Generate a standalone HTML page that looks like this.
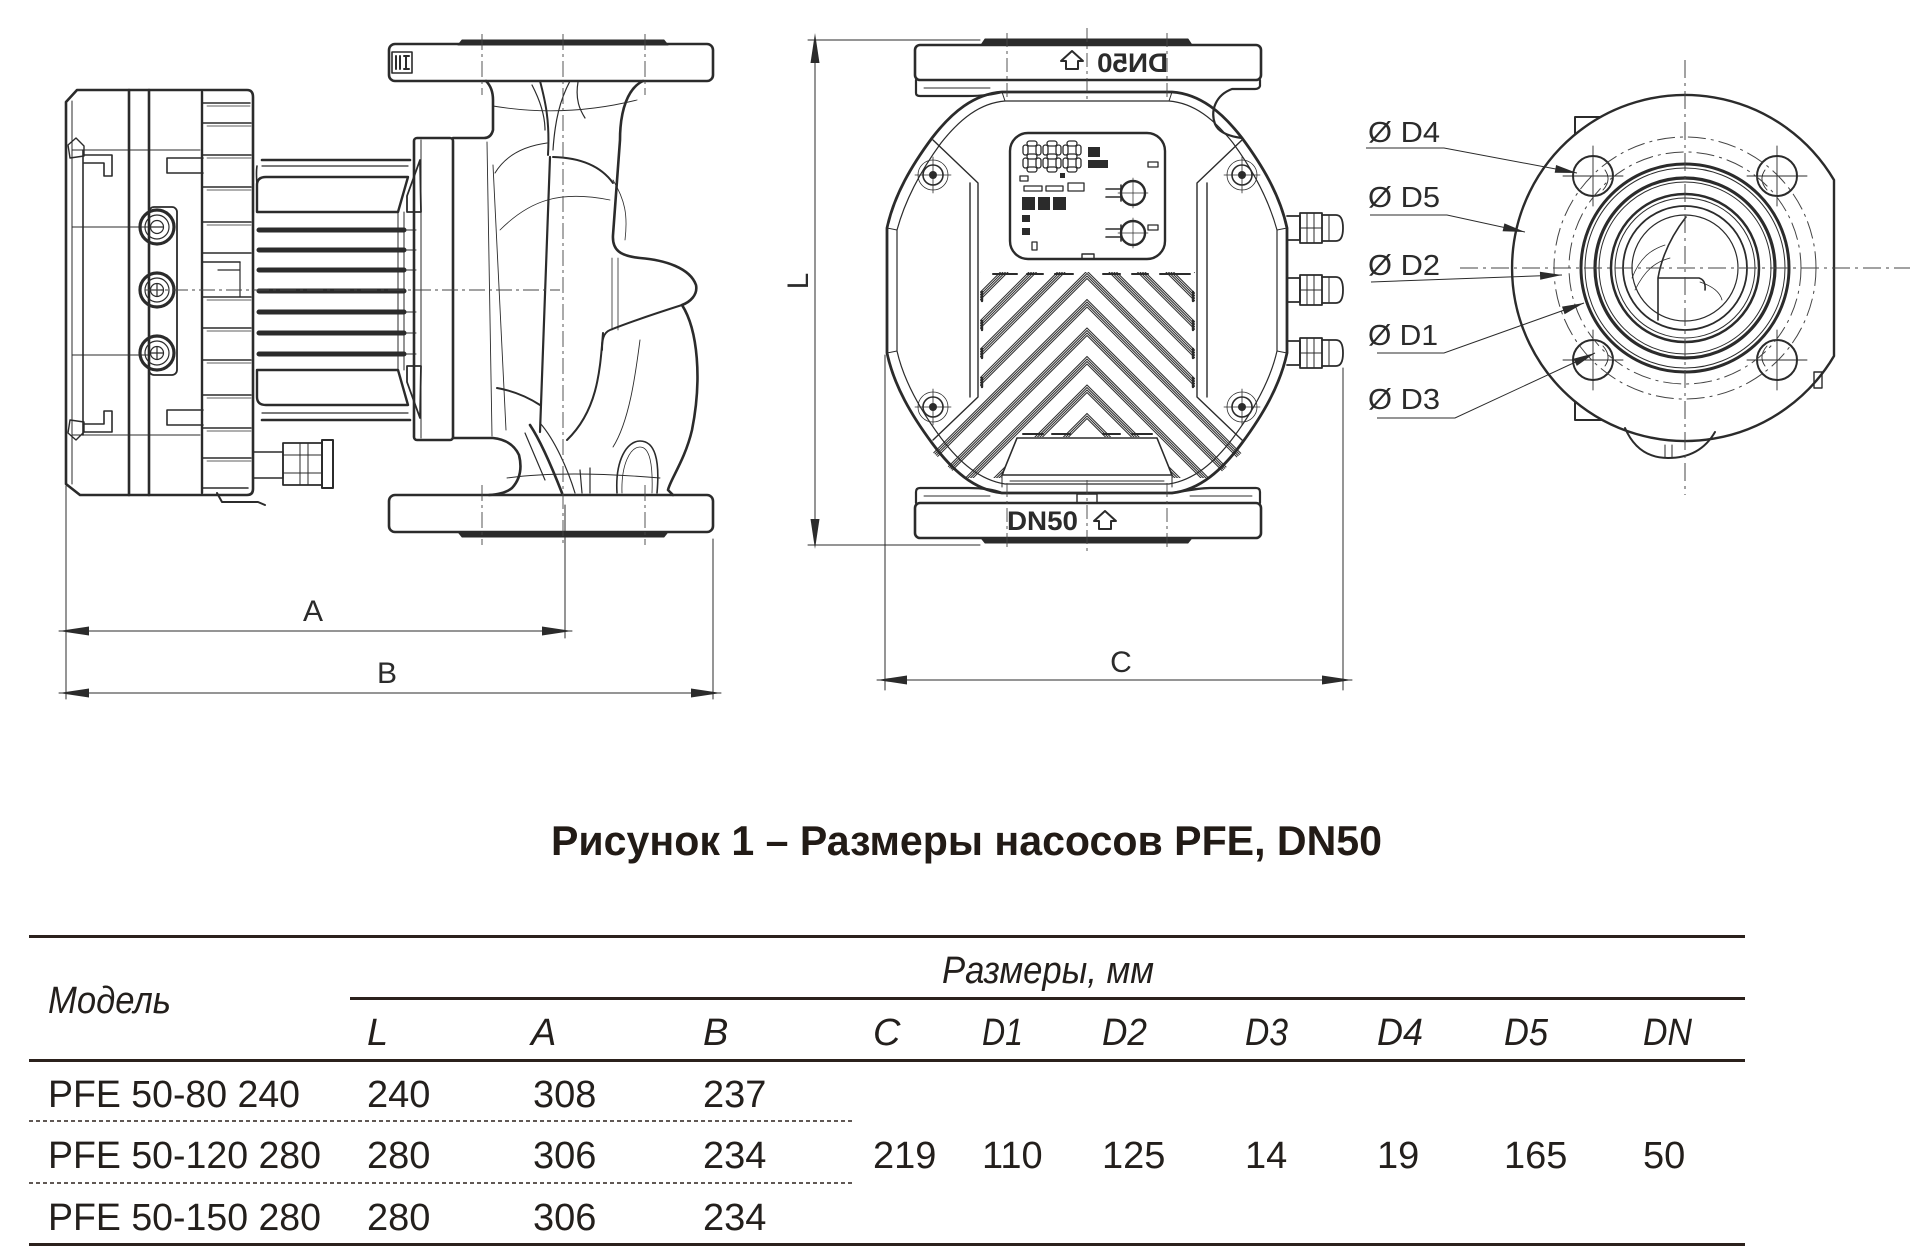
<!DOCTYPE html>
<html><head><meta charset="utf-8"><style>
html,body{margin:0;padding:0;background:#fff;}
svg{display:block;}
text{font-family:"Liberation Sans","DejaVu Sans",sans-serif;}
</style></head><body>
<svg width="1920" height="1253" viewBox="0 0 1920 1253" xmlns="http://www.w3.org/2000/svg">
<defs>
<clipPath id="chev"><polygon points="980,272 1195,272 1195,400 1250,445 1215,478 1172,478 1157,437 1017,437 1002,478 960,478 925,445 980,400"/></clipPath>
</defs>
<rect width="1920" height="1253" fill="#fff"/>

<!-- ================= LEFT VIEW ================= -->
<g fill="none" stroke="#2b2b2b" stroke-linejoin="round" stroke-linecap="round">
<path d="M77 90 H247 Q253 90 253 97 V489 Q253 495 247 495 H80 L66 484 V102 Z" stroke-width="2.6"/>
<path d="M72 101 V484" stroke-width="1"/>
<path d="M83 150 V435" stroke-width="1.6"/>
<path d="M129 90 V495 M149 90 V495" stroke-width="2.6"/>
<path d="M202 92 V493" stroke-width="2.4"/>
<path d="M72 150 H200 M72 227 H149 M72 355 H149 M72 435 H200" stroke-width="0.9"/>
<path d="M68 145 L76 138 L84 146 L84 156 L70 158 Z M68 433 L76 440 L84 432 L84 422 L70 420 Z" stroke-width="1.4"/>
<path d="M84 155 H112 V176 H104 V163 H84 M84 432 H112 V411 H104 V424 H84" stroke-width="1.6"/>
<path d="M203 158 H167 V173 H203 M203 410 H167 V425 H203" stroke-width="1.6"/>
<path d="M203 103 H250 M203 123 H251 M203 155 H251 M203 187 H251 M203 222 H251 M203 253 H251 M203 262 H240 M203 297 H251 M203 328 H251 M203 360 H251 M203 395 H251 M203 428 H251 M203 458 H251 M203 488 H248" stroke-width="1.5"/>
<path d="M207 106 H250 M207 126 H251 M207 158 H251 M207 190 H251 M207 225 H251 M207 300 H251 M207 331 H251 M207 363 H251 M207 398 H251 M207 431 H251 M207 461 H251" stroke-width="0.8"/>
<path d="M240 262 V297 M218 270 H240" stroke-width="1.2"/>
<rect x="149" y="207" width="28" height="168" rx="5" stroke-width="1.8"/>
<g stroke-width="3.2"><circle cx="157" cy="227" r="17"/><circle cx="157" cy="290" r="17"/><circle cx="157" cy="353" r="17"/></g>
<g stroke-width="1.2"><circle cx="157" cy="227" r="12"/><circle cx="157" cy="290" r="12"/><circle cx="157" cy="353" r="12"/>
<circle cx="157" cy="227" r="6.5"/><circle cx="157" cy="290" r="6.5"/><circle cx="157" cy="353" r="6.5"/>
<path d="M151 227 H163 M151 290 H163 M157 284 V296 M151 353 H163 M157 347 V359"/></g>
<path d="M217 493 L222 502 H258 L265 505" stroke-width="2"/>
<path d="M253 452 H283 V478 H253" stroke-width="1.4"/>
<rect x="283" y="443" width="39" height="42" stroke-width="1.8"/>
<path d="M283 455 H322 M283 473 H322 M300 443 V485 M308 443 V485" stroke-width="1"/>
<rect x="322" y="440" width="11" height="48" stroke-width="2"/>
<path d="M262 160 H410" stroke-width="2.6"/>
<path d="M262 166 H408" stroke-width="1.2"/>
<path d="M257 185 Q257 177 266 177 H408 L398 212 H257 Z" stroke-width="2.4"/>
<path d="M257 166 Q256 172 257 185" stroke-width="1.6"/>
<path d="M259 230 H404 M259 250 H404 M259 270 H404 M259 291 H404 M259 312 H404 M259 333 H404 M259 354 H404" stroke-width="5"/>
<path d="M398 212 V370 M404 212 V370" stroke-width="1"/>
<path d="M404 230 H416 M404 250 H416 M404 270 H416 M404 312 H416 M404 333 H416 M404 354 H416" stroke-width="1"/>
<path d="M257 370 H398 L408 405 H266 Q257 405 257 397 Z" stroke-width="2.4"/>
<path d="M262 413 H408" stroke-width="1.2"/>
<path d="M262 420 H410" stroke-width="2.6"/>
<rect x="414" y="138" width="39" height="302" rx="3" stroke-width="2.6"/>
<path d="M421 140 V438" stroke-width="1"/>
<path d="M420 160 L407 196 L407 212 H421 Z M420 418 L407 382 L407 366 H421 Z" stroke-width="1.8"/>
<path d="M453 138 H484 Q491 138 493 130 V100 Q493 88 486 81" stroke-width="2.6"/>
<path d="M453 438 H493 Q512 440 519 455 Q524 475 512 488 Q505 494 489 495" stroke-width="2.6"/>
<path d="M487 142 L492 436 M493 165 L506 430" stroke-width="0.9"/>
<path d="M643 81 C628 88 620 110 620 140 L613 235 C612 250 620 256 640 258 C665 260 690 268 696 285 C698 295 690 302 682 305 C698 330 702 380 692 430 C685 460 670 480 668 490 L673 495" stroke-width="2.6"/>
<path d="M682 305 C660 312 630 322 610 330 C603 333 602 340 602 350" stroke-width="2"/>
<path d="M550 157 L540 432" stroke-width="2.2"/>
<path d="M495 173 Q510 148 547 143" stroke-width="1"/>
<path d="M553 157 Q595 158 613 183" stroke-width="2"/>
<path d="M493 106 Q565 118 637 100" stroke-width="0.9"/>
<path d="M497 388 Q520 392 540 405" stroke-width="2"/>
<path d="M603 333 C600 370 598 410 567 440" stroke-width="2"/>
<path d="M640 340 C636 370 630 420 613 447" stroke-width="0.9"/>
<path d="M617 493 C615 460 627 441 640 441 C655 441 660 460 657 493" stroke-width="1.6"/>
<path d="M622 493 C621 465 630 447 640 447 C650 447 653 465 652 493" stroke-width="0.8"/>
<path d="M530 425 C540 440 553 470 562 493" stroke-width="2.6"/>
<path d="M540 423 C555 440 568 470 575 493 M525 433 L545 480 M580 470 L582 493 M590 468 L590 493" stroke-width="1.2"/>
<path d="M540 81 C545 100 550 120 548 155" stroke-width="2"/>
<path d="M570 81 C560 100 555 120 553 150 M578 82 C575 100 580 110 585 118 M532 85 Q545 110 545 130" stroke-width="1.2"/>
<path d="M507 478 Q565 470 660 478" stroke-width="0.9"/>
<path d="M613 180 C625 200 628 215 625 240 M500 230 C530 200 560 190 610 200" stroke-width="0.8"/>
<path d="M612 258 L612 330 M618 258 L618 330" stroke-width="0.8"/>
<rect x="389" y="44" width="324" height="37" rx="6" stroke-width="2.6"/>
<rect x="389" y="495" width="324" height="37" rx="6" stroke-width="2.6"/>
<path d="M458 45 L462 40 H664 L668 45 Z M458 532 L462 537 H664 L668 532 Z" fill="#2b2b2b" stroke-width="1"/>
<rect x="392" y="52" width="20" height="21" stroke-width="1.6"/>
<path d="M396 56 V69 M400 56 V69 M404 56 H409 M404 69 H409 M406 56 V69" stroke-width="2"/>
<path d="M66 486 V699 M565 505 V638 M713 539 V699" stroke-width="1"/>
<path d="M59 631 H572 M59 693 H721" stroke-width="1"/>
</g>
<g fill="none" stroke="#444" stroke-width="0.9" stroke-dasharray="16 4 3 4">
<path d="M482 34 V95 M482 485 V545 M645 34 V95 M645 485 V545 M563 34 V545"/>
<path d="M145 290 H560"/>
</g>
<g fill="#2b2b2b">
<polygon points="59,631 89,626.5 89,635.5"/><polygon points="572,631 542,626.5 542,635.5"/>
<polygon points="59,693 89,688.5 89,697.5"/><polygon points="721,693 691,688.5 691,697.5"/>
</g>
<text x="313" y="621" font-size="30" text-anchor="middle" fill="#2b2b2b">A</text>
<text x="387" y="683" font-size="30" text-anchor="middle" fill="#2b2b2b">B</text>

<!-- ================= MIDDLE VIEW ================= -->
<g fill="none" stroke="#2b2b2b" stroke-linejoin="round" stroke-linecap="round">
<g clip-path="url(#chev)" stroke-width="1.1" stroke="#333">
<path d="M887 357 L1087 157 L1287 357 M887 359.5 L1087 159.5 L1287 359.5 M887 362 L1087 162 L1287 362 M887 364.5 L1087 164.5 L1287 364.5"/>
<path d="M887 385.5 L1087 185.5 L1287 385.5 M887 388 L1087 188 L1287 388 M887 390.5 L1087 190.5 L1287 390.5 M887 393 L1087 193 L1287 393"/>
<path d="M887 414 L1087 214 L1287 414 M887 416.5 L1087 216.5 L1287 416.5 M887 419 L1087 219 L1287 419 M887 421.5 L1087 221.5 L1287 421.5"/>
<path d="M887 442.5 L1087 242.5 L1287 442.5 M887 445 L1087 245 L1287 445 M887 447.5 L1087 247.5 L1287 447.5 M887 450 L1087 250 L1287 450"/>
<path d="M887 471 L1087 271 L1287 471 M887 473.5 L1087 273.5 L1287 473.5 M887 476 L1087 276 L1287 476 M887 478.5 L1087 278.5 L1287 478.5"/>
<path d="M887 499.5 L1087 299.5 L1287 499.5 M887 502 L1087 302 L1287 502 M887 504.5 L1087 304.5 L1287 504.5 M887 507 L1087 307 L1287 507"/>
<path d="M887 528 L1087 328 L1287 528 M887 530.5 L1087 330.5 L1287 530.5 M887 533 L1087 333 L1287 533 M887 535.5 L1087 335.5 L1287 535.5"/>
<path d="M887 556.5 L1087 356.5 L1287 556.5 M887 559 L1087 359 L1287 559 M887 561.5 L1087 361.5 L1287 561.5 M887 564 L1087 364 L1287 564"/>
<path d="M887 585 L1087 385 L1287 585 M887 587.5 L1087 387.5 L1287 587.5 M887 590 L1087 390 L1287 590 M887 592.5 L1087 392.5 L1287 592.5"/>
<path d="M887 613.5 L1087 413.5 L1287 613.5 M887 616 L1087 416 L1287 616 M887 618.5 L1087 418.5 L1287 618.5"/>
</g>
<path d="M993 274 H1017 M1027 274 H1043 M1055 274 H1073 M1103 274 H1120 M1132 274 H1148 M1160 274 H1190" stroke-width="2"/>
<path d="M1023 434 H1043 M1052 434 H1070 M1103 434 H1120 M1132 434 H1152" stroke-width="2"/>
<path d="M982 292 V301 M982 321 V330 M982 349 V358 M982 378 V387 M1193 292 V301 M1193 321 V330 M1193 349 V358 M1193 378 V387" stroke-width="2.4"/>
<path d="M1002 92 H1172 C1200 94 1222 112 1242 138 C1262 165 1280 195 1287 228 V353 C1280 386 1262 416 1242 443 C1222 470 1200 490 1172 493 H1002 C974 490 952 470 932 443 C912 416 894 386 887 353 V228 C894 195 912 165 932 138 C952 112 974 94 1002 92 Z" stroke-width="2.8"/>
<path d="M1005 101 H1169 C1194 103 1214 119 1233 143 C1252 169 1268 197 1277 230 V351 C1270 382 1253 411 1233 438 C1214 463 1194 480 1169 484 H1005 C980 480 960 463 941 438 C921 411 904 382 897 351 V230 C906 197 922 169 941 143 C960 119 980 103 1005 101 Z" stroke-width="1.2"/>
<path d="M933 140 L978 183 V397 L933 440 M970 183 V397 M1242 140 L1197 183 V397 L1242 440 M1207 183 V397" stroke-width="1.4"/>
<path d="M1002 92 L1005 101 M1172 92 L1169 101 M887 228 L897 230 M887 353 L897 351 M1287 228 L1277 230 M1287 353 L1277 351" stroke-width="1"/>
<g stroke-width="1.6"><circle cx="933" cy="175" r="10"/><circle cx="1242" cy="175" r="10"/><circle cx="933" cy="407" r="10"/><circle cx="1242" cy="407" r="10"/></g>
<g fill="#2b2b2b" stroke="none"><circle cx="933" cy="175" r="4"/><circle cx="1242" cy="175" r="4"/><circle cx="933" cy="407" r="4"/><circle cx="1242" cy="407" r="4"/></g>
<g stroke-width="0.8"><circle cx="933" cy="175" r="15"/><circle cx="1242" cy="175" r="15"/><circle cx="933" cy="407" r="15"/><circle cx="1242" cy="407" r="15"/>
<path d="M915 175 H951 M933 157 V193 M1224 175 H1260 M1242 157 V193 M915 407 H951 M933 389 V425 M1224 407 H1260 M1242 389 V425"/></g>
<rect x="1010" y="133" width="155" height="126" rx="18" stroke-width="2.4"/>
<path d="M1082 259 V254 H1094 V259" stroke-width="1.4"/>
<g stroke-width="1.3">
<rect x="1027" y="141" width="10" height="5" rx="2.5"/><rect x="1027" y="154" width="10" height="5" rx="2.5"/><rect x="1027" y="167" width="10" height="5" rx="2.5"/>
<rect x="1023" y="145" width="5" height="10" rx="2.5"/><rect x="1036" y="145" width="5" height="10" rx="2.5"/><rect x="1023" y="158" width="5" height="10" rx="2.5"/><rect x="1036" y="158" width="5" height="10" rx="2.5"/>
<rect x="1047" y="141" width="10" height="5" rx="2.5"/><rect x="1047" y="154" width="10" height="5" rx="2.5"/><rect x="1047" y="167" width="10" height="5" rx="2.5"/>
<rect x="1043" y="145" width="5" height="10" rx="2.5"/><rect x="1056" y="145" width="5" height="10" rx="2.5"/><rect x="1043" y="158" width="5" height="10" rx="2.5"/><rect x="1056" y="158" width="5" height="10" rx="2.5"/>
<rect x="1067" y="141" width="10" height="5" rx="2.5"/><rect x="1067" y="154" width="10" height="5" rx="2.5"/><rect x="1067" y="167" width="10" height="5" rx="2.5"/>
<rect x="1063" y="145" width="5" height="10" rx="2.5"/><rect x="1076" y="145" width="5" height="10" rx="2.5"/><rect x="1063" y="158" width="5" height="10" rx="2.5"/><rect x="1076" y="158" width="5" height="10" rx="2.5"/>
</g>
<g fill="#2b2b2b" stroke="none">
<rect x="1088" y="147" width="12" height="10"/><rect x="1088" y="160" width="20" height="8"/>
<rect x="1060" y="173" width="5" height="5"/>
<rect x="1022" y="197" width="13" height="13"/><rect x="1038" y="197" width="12" height="13"/><rect x="1053" y="197" width="13" height="13"/>
<rect x="1022" y="215" width="8" height="7"/><rect x="1022" y="228" width="8" height="7"/>
</g>
<g stroke-width="1.3">
<rect x="1148" y="162" width="10" height="5"/><rect x="1148" y="225" width="10" height="5"/><rect x="1020" y="176" width="8" height="5"/>
<rect x="1024" y="186" width="18" height="5"/><rect x="1046" y="186" width="17" height="5"/><rect x="1068" y="183" width="16" height="8"/>
<rect x="1032" y="242" width="5" height="8"/>
<circle cx="1133" cy="193" r="12" stroke-width="2.4"/><circle cx="1133" cy="233" r="12" stroke-width="2.4"/>
<path d="M1106 189 H1121 M1106 197 H1121 M1106 229 H1121 M1106 237 H1121 M1121 185 V201 M1121 225 V241" stroke-width="1.6"/>
<path d="M1133 178 V208 M1118 193 H1148 M1133 218 V248 M1118 233 H1148" stroke-width="0.7"/>
</g>
<path d="M1017 438 H1157 L1172 475 H1002 Z" stroke-width="1.6"/>
<path d="M1002 475 V487 M1172 475 V487 M1010 481 H1164" stroke-width="1"/>
<rect x="915" y="45" width="346" height="35" rx="5" stroke-width="2.6"/>
<path d="M916 80 V93 Q916 96 920 96 H968 C985 96 995 94 1002 92" stroke-width="2.2"/>
<path d="M924 88 H990" stroke-width="0.9"/>
<path d="M1260 80 V86 Q1259 89 1255 89 H1232 C1216 95 1210 110 1215 124 C1218 131 1226 136 1242 138" stroke-width="2.2"/>
<rect x="915" y="503" width="346" height="35" rx="5" stroke-width="2.6"/>
<path d="M916 503 V492 Q916 488 920 488 H968 C985 488 995 490 1002 493" stroke-width="2.2"/>
<path d="M1260 503 V492 Q1260 488 1256 488 H1210 C1200 488 1190 490 1172 493" stroke-width="2.2"/>
<path d="M924 496 H990 M1190 496 H1252" stroke-width="0.9"/>
<rect x="1077" y="494" width="20" height="9" stroke-width="1.4"/>
<path d="M981 45 L985 39 H1188 L1192 45 Z M981 538 L985 543 H1188 L1192 538 Z" fill="#2b2b2b" stroke-width="1"/>
<path d="M1066 69 V61 H1061 L1072 51 L1083 61 H1078 V69 Z" stroke-width="2"/>
<path d="M1099 529 V521 H1094 L1105 511 L1116 521 H1111 V529 Z" stroke-width="2"/>
<g stroke-width="1.8">
<path d="M1287 216 H1300 V240 H1287 M1287 278 H1300 V302 H1287 M1287 341 H1300 V365 H1287"/>
<rect x="1300" y="213" width="22" height="30"/><rect x="1300" y="275" width="22" height="30"/><rect x="1300" y="338" width="22" height="30"/>
<path d="M1322 215 H1336 Q1343 215 1343 228 Q1343 241 1336 241 H1322 M1322 277 H1336 Q1343 277 1343 290 Q1343 303 1336 303 H1322 M1322 340 H1336 Q1343 340 1343 353 Q1343 366 1336 366 H1322"/>
</g>
<path d="M1307 213 V243 M1314 213 V243 M1300 228 H1322 M1307 275 V305 M1314 275 V305 M1300 290 H1322 M1307 338 V368 M1314 338 V368 M1300 353 H1322 M1329 215 V241 M1329 277 V303 M1329 340 V366" stroke-width="1"/>
<path d="M815 37 V545 M808 40 H980 M808 545 H980 M885 355 V690 M1343 368 V690 M877 680 H1352" stroke-width="1"/>
</g>
<g fill="none" stroke="#444" stroke-width="0.9" stroke-dasharray="14 4 3 4">
<path d="M1007 33 V100 M1087 28 V102 M1167 33 V100 M1007 483 V548 M1087 480 V552 M1167 483 V548"/>
</g>
<g fill="#2b2b2b">
<polygon points="815,33 810.5,63 819.5,63"/><polygon points="815,549 810.5,519 819.5,519"/>
<polygon points="877,680 907,675.5 907,684.5"/><polygon points="1352,680 1322,675.5 1322,684.5"/>
</g>
<text x="1121" y="672" font-size="30" text-anchor="middle" fill="#2b2b2b">C</text>
<text transform="translate(808 281) rotate(-90)" font-size="30" text-anchor="middle" fill="#2b2b2b">L</text>
<text transform="translate(1168 55) scale(-1 1)" y="17" font-size="27" font-weight="bold" fill="#2b2b2b" textLength="71" lengthAdjust="spacingAndGlyphs">DN50</text>
<text x="1007" y="530" font-size="27" font-weight="bold" fill="#2b2b2b" textLength="71" lengthAdjust="spacingAndGlyphs">DN50</text>

<!-- ================= RIGHT VIEW ================= -->
<g fill="none" stroke="#2b2b2b" stroke-linejoin="round" stroke-linecap="round">
<path d="M1601 117 H1575 V420 H1602" stroke-width="2"/>
<path d="M1834 180 A173 173 0 1 0 1834 356 Z" fill="#fff" stroke-width="2.4"/>
<path d="M1625 428 Q1638 458 1668 458 Q1700 458 1715 432" stroke-width="2"/>
<path d="M1665 445 V458 M1672 445 V458" stroke-width="1"/>
<rect x="1814" y="372" width="8" height="16" stroke-width="1.4"/>
<circle cx="1685" cy="268" r="104" stroke-width="3"/>
<circle cx="1685" cy="268" r="100" stroke-width="1"/>
<circle cx="1685" cy="268" r="90" stroke-width="3.2"/>
<circle cx="1685" cy="268" r="86" stroke-width="1"/>
<circle cx="1685" cy="268" r="74" stroke-width="2.5"/>
<circle cx="1685" cy="268" r="70" stroke-width="1"/>
<circle cx="1685" cy="268" r="62" stroke-width="1.8"/>
<circle cx="1685" cy="268" r="53" stroke-width="1.2"/>
<path d="M1686 217 C1672 235 1662 255 1658 278 V320 M1658 278 H1699 Q1706 280 1705 290" stroke-width="1.6"/>
<path d="M1632 278 C1640 258 1650 250 1665 245 M1635 290 C1645 270 1655 262 1670 258 M1700 282 C1712 286 1720 292 1722 300" stroke-width="0.8"/>
<g stroke-width="2"><circle cx="1593" cy="176" r="20"/><circle cx="1777" cy="176" r="20"/><circle cx="1593" cy="360" r="20"/><circle cx="1777" cy="360" r="20"/></g>
<g stroke-width="0.9">
<path d="M1563 176 H1623 M1593 146 V206 M1747 176 H1807 M1777 146 V206 M1563 360 H1623 M1593 330 V390 M1747 360 H1807 M1777 330 V390"/>
<path d="M1603 190 Q1612 180 1605 170 M1767 190 Q1758 180 1765 170 M1603 346 Q1612 356 1605 366 M1767 346 Q1758 356 1765 366"/>
</g>
</g>
<g fill="none" stroke="#444" stroke-width="1" stroke-dasharray="18 5 3 5">
<circle cx="1685" cy="268" r="131"/>
<circle cx="1685" cy="268" r="116"/>
<path d="M1685 60 V495 M1460 268 H1910"/>
</g>
<g fill="#2b2b2b" font-size="29">
<text x="1368" y="142" textLength="72" lengthAdjust="spacingAndGlyphs">Ø D4</text>
<text x="1368" y="207" textLength="72" lengthAdjust="spacingAndGlyphs">Ø D5</text>
<text x="1368" y="275" textLength="72" lengthAdjust="spacingAndGlyphs">Ø D2</text>
<text x="1368" y="345" textLength="70" lengthAdjust="spacingAndGlyphs">Ø D1</text>
<text x="1368" y="409" textLength="72" lengthAdjust="spacingAndGlyphs">Ø D3</text>
</g>
<g fill="none" stroke="#2b2b2b" stroke-width="1">
<path d="M1366 148 H1444 L1577 173"/>
<path d="M1370 215 H1447 L1525 232"/>
<path d="M1371 282 L1562 275"/>
<path d="M1377 353 H1444 L1584 303"/>
<path d="M1377 418 H1455 L1595 353"/>
</g>
<g fill="#2b2b2b">
<polygon points="1577,173 1554.7,172.8 1556.1,165"/>
<polygon points="1525,232 1502.6,231.2 1504.4,223.4"/>
<polygon points="1562,275 1540.2,279.8 1539.9,271.8"/>
<polygon points="1584,303 1564.6,314.2 1562,306.6"/>
<polygon points="1595,353 1576.8,365.9 1573.4,358.7"/>
</g>

<!-- ================= TITLE ================= -->
<text x="551" y="855" font-size="42" font-weight="bold" fill="#221b16" textLength="831" lengthAdjust="spacingAndGlyphs">Рисунок 1 – Размеры насосов PFE, DN50</text>

<!-- ================= TABLE ================= -->
<g stroke="#2b211c" fill="none">
<path d="M29 936.5 H1745 M350 998.5 H1745 M29 1060.5 H1745 M29 1244.5 H1745" stroke-width="3"/>
<path d="M29 1121 H855 M29 1183 H855" stroke-width="1.6" stroke-dasharray="4 3"/>
</g>
<g fill="#231f1c" font-size="38" font-style="italic">
<text x="48" y="1013" textLength="123" lengthAdjust="spacingAndGlyphs">Модель</text>
<text x="942" y="983" textLength="212" lengthAdjust="spacingAndGlyphs">Размеры, мм</text>
<text x="367" y="1045">L</text>
<text x="531" y="1045">A</text>
<text x="703" y="1045">B</text>
<text x="873" y="1045">C</text>
<text x="982" y="1045" textLength="41" lengthAdjust="spacingAndGlyphs">D1</text>
<text x="1102" y="1045" textLength="45" lengthAdjust="spacingAndGlyphs">D2</text>
<text x="1245" y="1045" textLength="43" lengthAdjust="spacingAndGlyphs">D3</text>
<text x="1377" y="1045" textLength="46" lengthAdjust="spacingAndGlyphs">D4</text>
<text x="1504" y="1045" textLength="44" lengthAdjust="spacingAndGlyphs">D5</text>
<text x="1643" y="1045" textLength="49" lengthAdjust="spacingAndGlyphs">DN</text>
</g>
<g fill="#231f1c" font-size="38">
<text x="48" y="1107" textLength="252" lengthAdjust="spacingAndGlyphs">PFE 50-80 240</text>
<text x="48" y="1168" textLength="273" lengthAdjust="spacingAndGlyphs">PFE 50-120 280</text>
<text x="48" y="1230" textLength="273" lengthAdjust="spacingAndGlyphs">PFE 50-150 280</text>
<text x="367" y="1107">240</text><text x="533" y="1107">308</text><text x="703" y="1107">237</text>
<text x="367" y="1168">280</text><text x="533" y="1168">306</text><text x="703" y="1168">234</text>
<text x="367" y="1230">280</text><text x="533" y="1230">306</text><text x="703" y="1230">234</text>
<text x="873" y="1168">219</text>
<text x="982" y="1168">110</text>
<text x="1102" y="1168">125</text>
<text x="1245" y="1168">14</text>
<text x="1377" y="1168">19</text>
<text x="1504" y="1168">165</text>
<text x="1643" y="1168">50</text>
</g>
</svg>
</body></html>
